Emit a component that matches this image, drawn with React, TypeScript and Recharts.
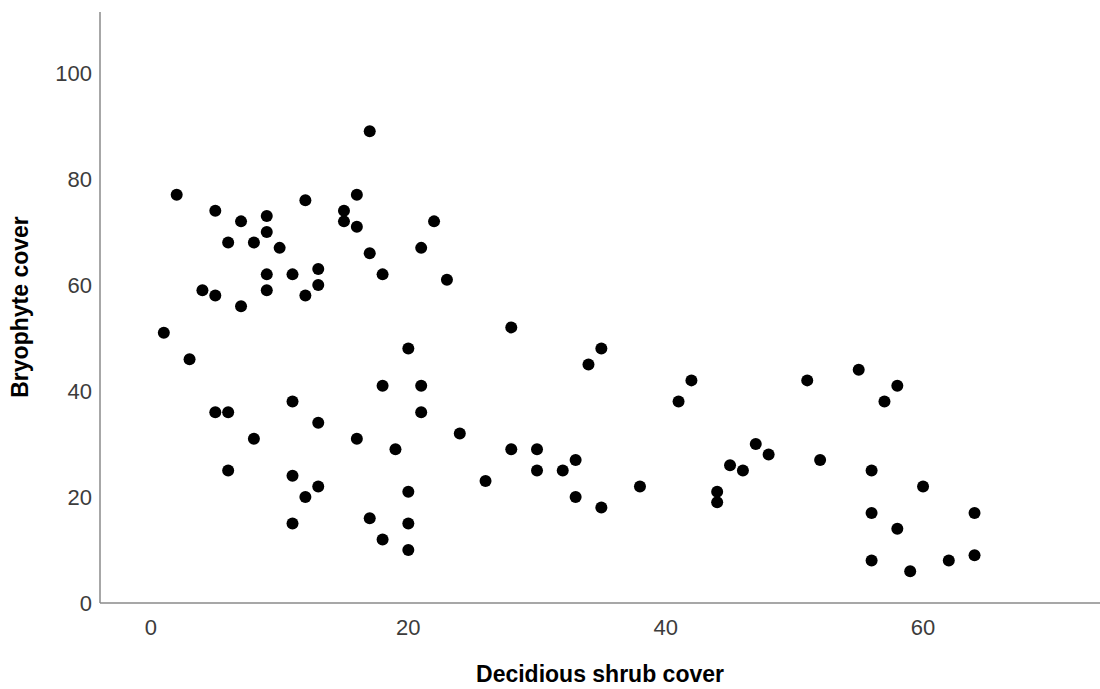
import { ScatterChart, Scatter, XAxis, YAxis, Label } from "recharts";

// deciduous shrub cover (x) and bryophyte cover (y)
const shrubCover = [
  1, 2, 3, 4, 5, 5, 5, 6, 6, 6, 7, 7, 8, 8, 9, 9, 9, 9, 10, 11, 11, 11, 11,
  12, 12, 12, 13, 13, 13, 13, 15, 15, 16, 16, 16, 17, 17, 17, 18, 18, 18, 19,
  20, 20, 20, 20, 21, 21, 21, 22, 23, 24, 26, 28, 28, 30, 30, 32, 33, 33, 34,
  35, 35, 38, 41, 42, 44, 44, 45, 46, 47, 48, 51, 52, 55, 56, 56, 56, 57, 58,
  58, 59, 60, 62, 64, 64,
];
const bryophyteCover = [
  51, 77, 46, 59, 74, 58, 36, 68, 36, 25, 72, 56, 68, 31, 73, 70, 62, 59, 67, 62, 38, 24, 15,
  76, 58, 20, 63, 60, 34, 22, 74, 72, 77, 71, 31, 89, 66, 16, 62, 41, 12, 29,
  48, 21, 15, 10, 67, 41, 36, 72, 61, 32, 23, 52, 29, 29, 25, 25, 27, 20, 45,
  48, 18, 22, 38, 42, 21, 19, 26, 25, 30, 28, 42, 27, 44, 25, 17, 8, 38, 41,
  14, 6, 22, 8, 17, 9,
];

const xTicks = [0, 20, 40, 60];
const yTicks = [0, 20, 40, 60, 80, 100];

const points = shrubCover.map((x, i) => ({ x, y: bryophyteCover[i] }));

const AXIS = "#8a8a8a";
const TICK = { fill: "#3c3c3c", fontSize: 22, fontFamily: "Liberation Sans, Arial, sans-serif" };
const TITLE_FONT = "Liberation Sans, Arial, sans-serif";

const Dot = (props: any) => <circle cx={props.cx} cy={props.cy} r={6} fill="#000" />;

export default function App() {
  return (
    <div style={{ position: "absolute", left: 0, top: 0, background: "#fff" }}>
      <ScatterChart width={1100} height={689} margin={{ top: 12, right: 0, bottom: 0, left: 0 }}>
        <XAxis
          type="number"
          dataKey="x"
          domain={[-3.96, 73.75]}
          ticks={xTicks}
          allowDataOverflow
          height={86}
          tickSize={0}
          tickMargin={16}
          tickLine={false}
          axisLine={{ stroke: AXIS, strokeWidth: 1.5 }}
          tick={TICK}
        >
          <Label
            content={() => (
              <text x={600} y={682} textAnchor="middle" fontFamily={TITLE_FONT} fontWeight="bold" fontSize={23} fill="#000">
                Decidious shrub cover
              </text>
            )}
          />
        </XAxis>
        <YAxis
          type="number"
          dataKey="y"
          domain={[0, 111.5]}
          ticks={yTicks}
          allowDataOverflow
          width={100}
          tickSize={0}
          tickMargin={8}
          tickLine={false}
          axisLine={{ stroke: AXIS, strokeWidth: 1.5 }}
          tick={TICK}
        >
          <Label
            content={() => (
              <text
                x={28}
                y={307}
                transform="rotate(-90 28 307)"
                textAnchor="middle"
                fontFamily={TITLE_FONT}
                fontWeight="bold"
                fontSize={23}
                fill="#000"
              >
                Bryophyte cover
              </text>
            )}
          />
        </YAxis>
        <Scatter data={points} shape={Dot} isAnimationActive={false} />
      </ScatterChart>
    </div>
  );
}
